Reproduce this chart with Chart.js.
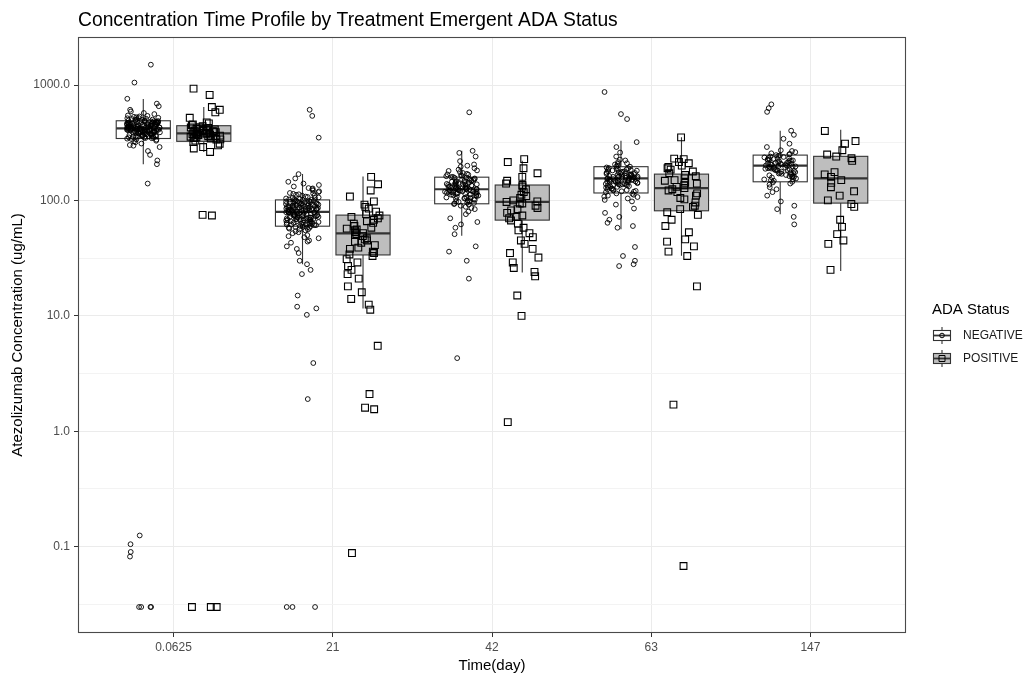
<!DOCTYPE html>
<html>
<head>
<meta charset="utf-8">
<title>Concentration Time Profile by Treatment Emergent ADA Status</title>
<script src="https://cdn.jsdelivr.net/npm/chart.js@4"></script>
<style>
  html, body { margin: 0; padding: 0; background: #ffffff; }
  #wrap { width: 1027px; height: 677px; }
</style>
</head>
<body>
<div id="wrap"><canvas id="c" width="1027" height="677"></canvas></div>
<script>
// ---- Categories and labels ----
const TIMES = ['0.0625', '21', '42', '63', '147'];
const GROUPS = ['NEGATIVE', 'POSITIVE'];
const Y_MAJOR = [0.1, 1, 10, 100, 1000];
const Y_TICK_LABELS = ['0.1', '1.0', '10.0', '100.0', '1000.0'];

// ---- Box statistics (ug/mL) per time point ----
const NEG_LOW  = [206, 28, 49.3, 56.4, 76];
const NEG_Q1   = [344, 59.8, 93.5, 116, 145];
const NEG_MED  = [421, 79.6, 125, 155, 200];
const NEG_Q3   = [490, 101, 159, 196, 247];
const NEG_HIGH = [756, 169, 269, 329, 402];

const POS_LOW  = [263, 11.6, 23.7, 33.1, 24.5];
const POS_Q1   = [325, 33.7, 67.5, 81.3, 94.8];
const POS_MED  = [381, 51.8, 97.3, 128, 155];
const POS_Q3   = [444, 74.6, 136, 169, 241];
const POS_HIGH = [644, 161.5, 221, 352, 410];

// ---- Individual concentrations (ug/mL) ----
const NEG_0_0625 = [412, 388, 455, 502, 347, 430, 468, 391, 520, 365, 441, 298, 476, 405, 560, 419, 352, 487, 433, 379,
  610, 398, 461, 325, 447, 511, 370, 424, 493, 338, 402, 545, 383, 458, 416, 290, 472, 436, 357, 590, 427, 395, 481, 362,
  449, 268, 408, 530, 374, 439, 499, 343, 421, 655, 386, 463, 311, 415, 478, 351, 444, 507, 393, 426, 248, 470, 359, 433,
  572, 401, 484, 336, 452, 418, 377, 495, 409, 690, 366, 442, 222, 457, 389, 515, 428, 346, 474, 403, 760, 381, 438, 319,
  466, 411, 540, 355, 423, 489, 397, 206, 435, 372, 459, 401, 488, 356, 417, 444, 392, 525, 368, 431, 477, 340, 409, 453,
  385, 498, 422, 361, 469, 396, 440, 413, 534, 378, 451, 404, 362, 486, 427, 393, 462, 349, 419, 505, 384, 446, 410, 375,
  472, 433, 398, 458, 329, 425, 491, 367, 414, 448, 387, 518, 406, 436, 355, 479, 420, 390, 463, 302,
  1500, 1050, 140, 0.125, 0.105, 0.09, 0.082, 0.03, 0.03, 0.03, 0.03];
const NEG_21 = [82, 65, 97, 74, 110, 58, 88, 70, 125, 79, 61, 93, 84, 52, 104, 76, 68, 140, 86, 63, 99, 72, 45, 91, 80,
  57, 115, 77, 66, 95, 85, 48, 108, 73, 62, 132, 89, 69, 101, 78, 55, 94, 83, 40, 118, 75, 64, 98, 87, 60, 155, 81, 71,
  106, 67, 50, 92, 79, 59, 122, 84, 74, 96, 35, 103, 70, 63, 112, 90, 77, 56, 100, 86, 66, 145, 80, 43, 94, 73, 61, 128,
  88, 69, 97, 54, 107, 82, 65, 169, 78, 38, 102, 91, 72, 58, 114, 85, 68, 99, 47, 81, 76, 62, 136, 93, 71, 30, 105, 87,
  64, 83, 71, 90, 64, 78, 102, 59, 86, 75, 95, 68, 81, 113, 62, 88, 73, 99, 56, 84, 79, 120, 66, 92, 72, 87, 53, 105, 77,
  69, 96, 82, 60, 110, 75, 90, 64, 85, 49, 101, 79, 70, 93, 58, 83, 127, 67, 89, 74, 98, 61, 80, 116, 71, 86, 63, 95, 44,
  78, 91, 68, 28, 25, 23, 610, 540, 350, 15, 12, 11.6, 10.2, 3.9, 1.9, 0.03, 0.03, 0.03];
const NEG_42 = [128, 105, 152, 117, 180, 96, 140, 122, 88, 165, 131, 110, 205, 119, 144, 99, 136, 76, 158, 126, 113, 190,
  102, 147, 124, 84, 170, 133, 108, 121, 240, 97, 150, 129, 115, 70, 162, 138, 104, 127, 219, 93, 145, 118, 134, 65, 176,
  123, 111, 155, 100, 142, 258, 130, 90, 167, 116, 137, 106, 125, 80, 149, 120, 185, 98, 132, 112, 160, 58, 139, 127, 103,
  196, 119, 154, 94, 135, 269, 114, 131, 112, 146, 124, 98, 159, 120, 137, 105, 173, 127, 115, 150, 92, 134, 122, 163, 109,
  141, 118, 182, 101, 129, 153, 114, 138, 86, 125, 168, 107, 143, 121, 95, 157, 130, 111, 200, 126, 148, 117,
  62, 51, 40, 36, 30, 21, 580, 4.3];
const NEG_63 = [162, 130, 188, 145, 210, 121, 170, 152, 98, 240, 158, 137, 182, 112, 166, 149, 85, 200, 142, 175, 127, 155,
  290, 118, 193, 160, 104, 147, 178, 135, 72, 168, 150, 124, 215, 140, 186, 110, 157, 64, 196, 132, 173, 146, 119, 260, 163,
  92, 181, 138, 154, 58, 205, 126, 171, 143, 115, 320, 159, 78, 190, 134, 165, 107, 151, 68, 226, 139, 176, 122, 157, 60,
  185, 148, 156, 138, 174, 125, 161, 148, 197, 133, 169, 152, 114, 184, 143, 158, 129, 207, 150, 166, 120, 179, 146, 136,
  191, 154, 108, 172, 141, 163, 131, 222, 149, 177, 123, 160, 145, 187, 135, 167, 153, 101,
  39.5, 33, 30, 28, 27, 870, 560, 507];
const NEG_147 = [205, 170, 238, 152, 290, 188, 226, 160, 212, 130, 256, 195, 178, 342, 220, 148, 201, 245, 165, 110, 230,
  190, 272, 155, 210, 183, 98, 250, 173, 218, 140, 200, 310, 162, 236, 192, 125, 224, 175, 262, 150, 208, 185, 402, 232,
  168, 90, 214, 197, 145, 243, 180, 118, 226, 203, 158, 370, 187, 198, 176, 221, 161, 208, 189, 247, 172, 215, 194, 153,
  233, 181, 204, 166, 268, 196, 222, 143, 186, 211, 171, 253, 192, 160, 228, 183, 206, 137, 240,
  84, 72, 62, 680, 630, 585];

const POS_0_0625 = [395, 360, 420, 338, 610, 372, 455, 300, 386, 412, 347, 430, 368, 290, 402, 378, 475, 352, 644, 391,
  330, 440, 364, 405, 282, 384, 418, 343, 520, 375, 398, 356, 428, 310, 390, 449, 369, 263, 407, 381, 336, 580, 362, 425,
  377, 320, 400, 350, 465, 388, 930, 820, 75, 74, 0.03, 0.03, 0.03];
const POS_21 = [58, 92, 41, 66, 35, 122, 51, 76, 29, 63, 45, 98, 38, 55, 160, 72, 33, 49, 85, 27, 60, 43, 108, 53, 36, 70,
  23, 47, 80, 31, 56, 138, 39, 64, 25, 52, 88, 34, 46, 21, 74, 18, 57, 16, 44, 14, 68, 12.5, 11.3, 50, 5.5, 2.1, 1.6,
  1.55, 0.088];
const POS_42 = [105, 160, 82, 228, 94, 70, 132, 55, 118, 97, 42, 148, 86, 63, 190, 100, 74, 29, 125, 90, 52, 215, 112, 67,
  38, 140, 78, 45, 172, 94, 58, 26, 109, 84, 35, 136, 72, 48, 24, 98, 22, 32, 15, 10, 1.2];
const POS_63 = [352, 228, 140, 96, 215, 172, 122, 60, 190, 155, 110, 84, 230, 135, 68, 200, 162, 128, 90, 46, 185, 148,
  118, 75, 53, 210, 166, 131, 102, 40, 178, 142, 115, 88, 36, 195, 125, 79, 44, 33, 150, 105, 18, 1.7, 0.068];
const POS_147 = [240, 110, 327, 176, 59, 400, 150, 93, 272, 130, 42, 232, 160, 68, 310, 120, 51, 250, 142, 88, 25, 220,
  168, 100, 45];

const NEG_SERIES = [NEG_0_0625, NEG_21, NEG_42, NEG_63, NEG_147];
const POS_SERIES = [POS_0_0625, POS_21, POS_42, POS_63, POS_147];

// ---- Layout constants (in category units) ----
const DODGE = 0.19;      // offset of each ADA group from the time point
const BOX_HALF = 0.17;   // half width of a box
const JITTER = 0.105;    // half width of the horizontal point jitter

const FONT = '"Liberation Sans", Arial, Helvetica, sans-serif';
const POS_FILL = '#bebebe';
const LINE = '#333333';

// deterministic hash so the horizontal spread is stable between renders
function jitterOffset(i, seed) {
  const s = Math.sin((i + 1) * 127.1 + seed * 311.7) * 43758.5453;
  const f = s - Math.floor(s);
  return (f - 0.5) * 2 * JITTER;
}

function buildPoints(series, offset, seedBase) {
  const pts = [];
  series.forEach((vals, ci) => {
    vals.forEach((v, i) => {
      pts.push({ x: ci + offset + jitterOffset(i, seedBase + ci), y: v });
    });
  });
  return pts;
}

const negPoints = buildPoints(NEG_SERIES, -DODGE, 1);
const posPoints = buildPoints(POS_SERIES, DODGE, 7);

// boxes and whiskers, drawn underneath the points
const boxPlugin = {
  id: 'boxes',
  beforeDatasetsDraw(chart) {
    const { ctx, chartArea, scales: { x, y } } = chart;
    const specs = [
      { off: -DODGE, fill: '#ffffff', lo: NEG_LOW, q1: NEG_Q1, med: NEG_MED, q3: NEG_Q3, hi: NEG_HIGH },
      { off: DODGE, fill: POS_FILL, lo: POS_LOW, q1: POS_Q1, med: POS_MED, q3: POS_Q3, hi: POS_HIGH }
    ];
    ctx.save();
    ctx.beginPath();
    ctx.rect(chartArea.left, chartArea.top, chartArea.width, chartArea.height);
    ctx.clip();
    specs.forEach(s => {
      TIMES.forEach((t, i) => {
        const cx = x.getPixelForValue(i + s.off);
        const hw = x.getPixelForValue(BOX_HALF) - x.getPixelForValue(0);
        const yLo = y.getPixelForValue(s.lo[i]);
        const yQ1 = y.getPixelForValue(s.q1[i]);
        const yMed = y.getPixelForValue(s.med[i]);
        const yQ3 = y.getPixelForValue(s.q3[i]);
        const yHi = y.getPixelForValue(s.hi[i]);
        ctx.strokeStyle = LINE;
        ctx.lineWidth = 1.1;
        ctx.beginPath();
        ctx.moveTo(cx, yHi); ctx.lineTo(cx, yQ3);
        ctx.moveTo(cx, yQ1); ctx.lineTo(cx, yLo);
        ctx.stroke();
        ctx.fillStyle = s.fill;
        ctx.fillRect(cx - hw, yQ3, 2 * hw, yQ1 - yQ3);
        ctx.strokeRect(cx - hw, yQ3, 2 * hw, yQ1 - yQ3);
        ctx.lineWidth = 2.2;
        ctx.beginPath();
        ctx.moveTo(cx - hw, yMed); ctx.lineTo(cx + hw, yMed);
        ctx.stroke();
      });
    });
    ctx.restore();
  },
  afterDatasetsDraw(chart) {
    const { ctx, chartArea } = chart;
    ctx.save();
    ctx.strokeStyle = '#4a4a4a';
    ctx.lineWidth = 1.1;
    ctx.strokeRect(chartArea.left + 0.5, chartArea.top + 0.5, chartArea.width - 1, chartArea.height - 1);
    ctx.restore();
  }
};

// plot title and the ADA status legend
const decorPlugin = {
  id: 'decor',
  afterDraw(chart) {
    const { ctx, chartArea } = chart;
    ctx.save();
    ctx.fillStyle = '#000000';
    ctx.textBaseline = 'alphabetic';
    ctx.textAlign = 'left';
    ctx.font = '19.3px ' + FONT;
    ctx.fillText('Concentration Time Profile by Treatment Emergent ADA Status', chartArea.left, 26);

    // legend
    const lx = 932;
    ctx.font = '15px ' + FONT;
    ctx.fillText('ADA Status', lx, 314);
    const rows = [
      { label: GROUPS[0], cy: 335.5, fill: '#ffffff', shape: 'circle' },
      { label: GROUPS[1], cy: 358.5, fill: POS_FILL, shape: 'rect' }
    ];
    rows.forEach(r => {
      const cx = lx + 10;
      ctx.strokeStyle = LINE;
      ctx.lineWidth = 1.1;
      ctx.beginPath();
      ctx.moveTo(cx, r.cy - 8.5); ctx.lineTo(cx, r.cy - 5);
      ctx.moveTo(cx, r.cy + 5); ctx.lineTo(cx, r.cy + 8.5);
      ctx.stroke();
      ctx.fillStyle = r.fill;
      ctx.fillRect(lx + 1.5, r.cy - 5, 17, 10);
      ctx.strokeRect(lx + 1.5, r.cy - 5, 17, 10);
      ctx.lineWidth = 1.8;
      ctx.beginPath();
      ctx.moveTo(lx + 1.5, r.cy); ctx.lineTo(lx + 18.5, r.cy);
      ctx.stroke();
      ctx.lineWidth = 1;
      ctx.strokeStyle = '#000';
      ctx.beginPath();
      if (r.shape === 'circle') ctx.arc(cx, r.cy, 2.3, 0, Math.PI * 2);
      else ctx.rect(cx - 3, r.cy - 3, 6, 6);
      ctx.stroke();
      ctx.fillStyle = '#1a1a1a';
      ctx.font = '12px ' + FONT;
      ctx.textBaseline = 'middle';
      ctx.fillText(r.label, lx + 31, r.cy);
      ctx.textBaseline = 'alphabetic';
    });
    ctx.restore();
  }
};

const isMajor = v => Y_MAJOR.includes(v);
const yTickValues = [];
Y_MAJOR.forEach(m => { yTickValues.push(m / Math.sqrt(10)); yTickValues.push(m); });

new Chart(document.getElementById('c'), {
  type: 'scatter',
  data: {
    datasets: [
      {
        label: GROUPS[0],
        data: negPoints,
        pointStyle: 'circle',
        pointRadius: 2.4,
        pointBorderWidth: 0.9,
        pointBorderColor: '#000000',
        pointBackgroundColor: 'rgba(255,255,255,0)'
      },
      {
        label: GROUPS[1],
        data: posPoints,
        pointStyle: 'rect',
        pointRadius: 4.8,
        pointBorderWidth: 1.1,
        pointBorderColor: '#000000',
        pointBackgroundColor: 'rgba(255,255,255,0)'
      }
    ]
  },
  options: {
    responsive: false,
    devicePixelRatio: 1,
    animation: false,
    events: [],
    layout: { padding: { left: 0, right: 121, top: 37, bottom: 0 } },
    plugins: {
      legend: { display: false },
      title: { display: false },
      tooltip: { enabled: false }
    },
    scales: {
      x: {
        type: 'linear',
        min: -0.6,
        max: 4.6,
        afterBuildTicks: axis => { axis.ticks = TIMES.map((t, i) => ({ value: i })); },
        afterFit: axis => { axis.height = 44; },
        ticks: {
          autoSkip: false,
          maxRotation: 0,
          padding: 3,
          color: '#4d4d4d',
          font: { family: FONT, size: 12 },
          callback: v => TIMES[v]
        },
        grid: {
          color: '#ebebeb',
          lineWidth: 1,
          tickLength: 4,
          tickColor: LINE,
          tickWidth: 1
        },
        border: { display: false },
        title: {
          display: true,
          text: 'Time(day)',
          color: '#000000',
          font: { family: FONT, size: 15 },
          padding: { top: 0, bottom: 2 }
        }
      },
      y: {
        type: 'logarithmic',
        min: 0.01786,
        max: 2606,
        afterBuildTicks: axis => { axis.ticks = yTickValues.map(v => ({ value: v })); },
        afterFit: axis => { axis.width = 78; },
        ticks: {
          autoSkip: false,
          padding: 4,
          color: '#4d4d4d',
          font: { family: FONT, size: 12 },
          callback: v => { const i = Y_MAJOR.indexOf(v); return i >= 0 ? Y_TICK_LABELS[i] : ''; }
        },
        grid: {
          color: ctx => (ctx.tick && isMajor(ctx.tick.value)) ? '#ebebeb' : '#f3f3f3',
          lineWidth: 1,
          tickLength: 4,
          tickColor: ctx => (ctx.tick && isMajor(ctx.tick.value)) ? LINE : 'rgba(0,0,0,0)',
          tickWidth: 1
        },
        border: { display: false },
        title: {
          display: true,
          text: 'Atezolizumab Concentration (ug/mL)',
          color: '#000000',
          font: { family: FONT, size: 15 },
          padding: { top: 9, bottom: 0 }
        }
      }
    }
  },
  plugins: [boxPlugin, decorPlugin]
});
</script>
</body>
</html>
